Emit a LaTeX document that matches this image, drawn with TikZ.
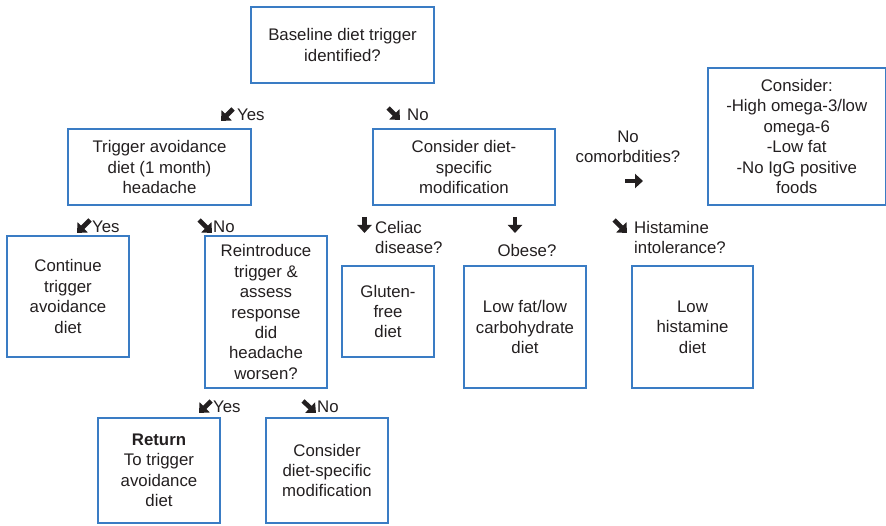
\documentclass[tikz,border=0pt]{standalone}
\usepackage{fontspec}
\setmainfont{Liberation Sans}
\usepackage{tikz}
\usetikzlibrary{arrows.meta}
\definecolor{boxblue}{RGB}{58,124,196}
\definecolor{ink}{RGB}{35,31,32}

\begin{document}
\begin{tikzpicture}[x=1pt,y=-1pt,
  every node/.style={font=\fontsize{16.8}{20.4}\selectfont, text=ink},
  box/.style={draw=boxblue, line width=1.2pt, align=center, inner sep=0pt},
  lbl/.style={inner sep=0pt, align=left, anchor=west},
  heavy/.style={ink, line width=4.6pt, -{Triangle[length=8pt,width=14pt]}}]
\useasboundingbox (0,0) rectangle (886,526);

\node[box, minimum width=183, minimum height=76] (base) at (342.5,45) {Baseline diet trigger\\identified?};
\node[box, minimum width=183, minimum height=76] (trig) at (159.5,167) {Trigger avoidance\\diet (1 month)\\headache};
\node[box, minimum width=182, minimum height=76] (spec) at (464,167) {Consider diet-\\specific\\modification};
\node[box, minimum width=177.5, minimum height=137] (cons) at (796.75,136.5) {Consider:\\-High omega-3/low\\omega-6\\-Low fat\\-No IgG positive\\foods};
\node[box, minimum width=122, minimum height=121] (cont) at (68,296.5) {Continue\\trigger\\avoidance\\diet};
\node[box, minimum width=122, minimum height=152] (reint) at (266,312) {Reintroduce\\trigger \&\\assess\\response\\did\\headache\\worsen?};
\node[box, minimum width=92, minimum height=91] (glut) at (388,311.5) {Gluten-\\free\\diet};
\node[box, minimum width=122, minimum height=122] (lowfat) at (525,327) {Low fat/low\\carbohydrate\\diet};
\node[box, minimum width=121, minimum height=122] (lowhist) at (692.5,327) {Low\\histamine\\diet};
\node[box, minimum width=122, minimum height=105] (ret) at (159,470.5) {{\bfseries Return}\\To trigger\\avoidance\\diet};
\node[box, minimum width=122, minimum height=105] (respec) at (327,470.5) {Consider\\diet-specific\\modification};

\node[lbl] (yesA) at (237,115) {Yes};
\node[lbl] (noA) at (407,115) {No};
\node[lbl] (yesB) at (92,227) {Yes};
\node[lbl] (noB) at (213,227) {No};
\node[lbl] (celiac) at (375,237.5) {Celiac\\disease?};
\node[inner sep=0pt] (obese) at (527,250) {Obese?};
\node[lbl] (histq) at (634,237.5) {Histamine\\intolerance?};
\node[inner sep=0pt, align=center] (comorb) at (628,147) {No\\comorbdities?};
\node[lbl] (yesC) at (213,407) {Yes};
\node[lbl] (noC) at (317,407) {No};

\foreach \p/\d in {{(233,109)}/{(-12,12)}, {(388,108)}/{(12,12)},
                   {(90,220)}/{(-13,13)}, {(199,220)}/{(13,13)},
                   {(364.5,217)}/{(0,16)}, {(515,217)}/{(0,16)},
                   {(614,220)}/{(13,13)}, {(625,181)}/{(18,0)},
                   {(211,401)}/{(-12,12)}, {(303,401)}/{(13,12)}}
  \draw[heavy] \p --++ \d;
\end{tikzpicture}
\end{document}
